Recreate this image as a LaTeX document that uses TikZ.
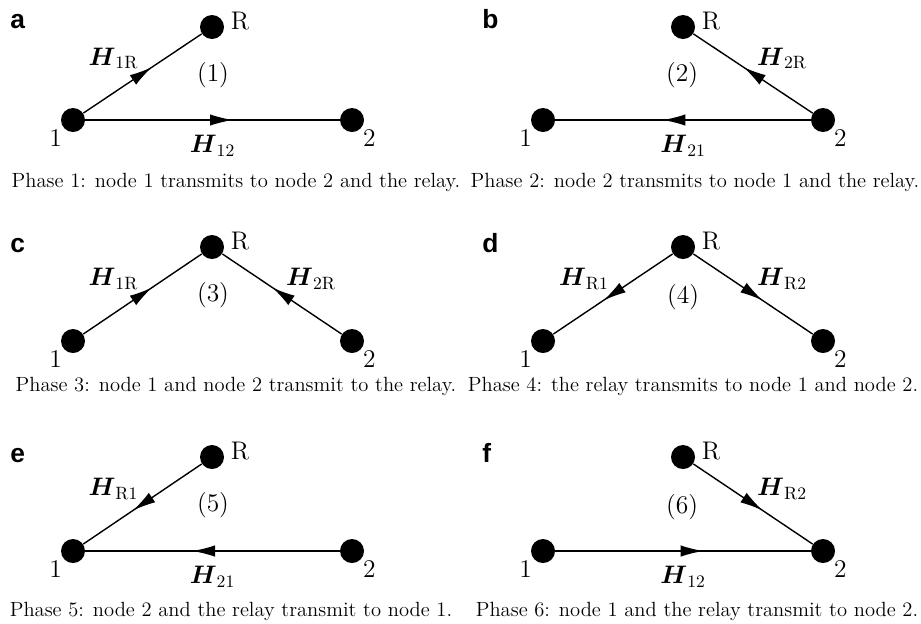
\documentclass[tikz,border=0pt]{standalone}
\usepackage{amsmath,amssymb}
\usepackage{fontspec}
\newfontfamily\panelfont{Liberation Sans}
\usepackage{tikz}
\usetikzlibrary{arrows.meta,decorations.markings}
\tikzset{
  dot/.style  ={circle, fill=black, inner sep=0pt, minimum size=0.48cm},
  nlbl/.style ={font=\fontsize{14.5}{16}\selectfont, inner sep=0pt, label distance=1pt},
  rlbl/.style ={nlbl, label distance=3.5pt, yshift=3.5pt},
  hlbl/.style ={font=\fontsize{14.5}{16}\selectfont, inner sep=2pt},
  phase/.style={font=\fontsize{14.5}{16}\selectfont},
  capt/.style ={font=\fontsize{11.7}{14}\selectfont},
  tag/.style  ={font=\fontsize{15}{15}\panelfont\bfseries, anchor=base west, inner sep=0pt},
  link/.style ={line width=0.8pt, postaction={decorate},
                decoration={markings, mark=at position 0.58 with
                {\arrow{Latex[length=13pt,width=6.5pt]}}}}
}

\begin{document}
\begin{tikzpicture}
\useasboundingbox (0,0) rectangle (18.42,-12.46);

\node[tag] (ta) at (0.2,-0.56) {a};
\node[dot, label={[nlbl]-140:1}] (a1) at (1.46,-2.40) {};
\node[dot, label={[rlbl]0:R}]    (aR) at (4.24,-0.54) {};
\node[dot, label={[nlbl]-40:2}]  (a2) at (7.04,-2.40) {};
\node[phase] (pa) at (4.26,-1.50) {(1)};
\draw[link] (a1) -- node[hlbl, above left]{$\boldsymbol{H}_{1\mathrm{R}}$} (aR);
\draw[link] (a1) -- node[hlbl, below=0.22cm]{$\boldsymbol{H}_{12}$} (a2);
\node[capt] (ca) at (4.72,-3.64) {Phase 1: node 1 transmits to node 2 and the relay.};

\node[tag] (tb) at (9.64,-0.56) {b};
\node[dot, label={[nlbl]-140:1}] (b1) at (10.86,-2.40) {};
\node[dot, label={[rlbl]0:R}]    (bR) at (13.66,-0.54) {};
\node[dot, label={[nlbl]-40:2}]  (b2) at (16.46,-2.40) {};
\node[phase] (pb) at (13.64,-1.50) {(2)};
\draw[link] (b2) -- node[hlbl, above right]{$\boldsymbol{H}_{2\mathrm{R}}$} (bR);
\draw[link] (b2) -- node[hlbl, below=0.22cm]{$\boldsymbol{H}_{21}$} (b1);
\node[capt] (cb) at (13.90,-3.64) {Phase 2: node 2 transmits to node 1 and the relay.};

\node[tag] (tc) at (0.2,-5.04) {c};
\node[dot, label={[nlbl]-140:1}] (c1) at (1.46,-6.82) {};
\node[dot, label={[rlbl]0:R}]    (cR) at (4.24,-4.94) {};
\node[dot, label={[nlbl]-40:2}]  (c2) at (7.04,-6.82) {};
\node[phase] (pc) at (4.26,-5.90) {(3)};
\draw[link] (c1) -- node[hlbl, above left]{$\boldsymbol{H}_{1\mathrm{R}}$} (cR);
\draw[link] (c2) -- node[hlbl, above right]{$\boldsymbol{H}_{2\mathrm{R}}$} (cR);
\node[capt] (cc) at (4.72,-7.72) {Phase 3: node 1 and node 2 transmit to the relay.};

\node[tag] (td) at (9.64,-5.04) {d};
\node[dot, label={[nlbl]-140:1}] (d1) at (10.86,-6.82) {};
\node[dot, label={[rlbl]0:R}]    (dR) at (13.66,-4.94) {};
\node[dot, label={[nlbl]-40:2}]  (d2) at (16.46,-6.82) {};
\node[phase] (pd) at (13.66,-5.94) {(4)};
\draw[link] (dR) -- node[hlbl, above left]{$\boldsymbol{H}_{\mathrm{R}1}$} (d1);
\draw[link] (dR) -- node[hlbl, above right]{$\boldsymbol{H}_{\mathrm{R}2}$} (d2);
\node[capt] (cd) at (13.86,-7.72) {Phase 4: the relay transmits to node 1 and node 2.};

\node[tag] (te) at (0.2,-9.24) {e};
\node[dot, label={[nlbl]-140:1}] (e1) at (1.46,-11.02) {};
\node[dot, label={[rlbl]0:R}]    (eR) at (4.24,-9.14) {};
\node[dot, label={[nlbl]-40:2}]  (e2) at (7.04,-11.02) {};
\node[phase] (pe) at (4.26,-10.10) {(5)};
\draw[link] (eR) -- node[hlbl, above left]{$\boldsymbol{H}_{\mathrm{R}1}$} (e1);
\draw[link] (e2) -- node[hlbl, below=0.22cm]{$\boldsymbol{H}_{21}$} (e1);
\node[capt] (ce) at (4.62,-12.22) {Phase 5: node 2 and the relay transmit to node 1.};

\node[tag] (tf) at (9.64,-9.24) {f};
\node[dot, label={[nlbl]-140:1}] (f1) at (10.86,-11.02) {};
\node[dot, label={[rlbl]0:R}]    (fR) at (13.66,-9.14) {};
\node[dot, label={[nlbl]-40:2}]  (f2) at (16.46,-11.02) {};
\node[phase] (pf) at (13.64,-10.14) {(6)};
\draw[link] (f1) -- node[hlbl, below=0.22cm]{$\boldsymbol{H}_{12}$} (f2);
\draw[link] (fR) -- node[hlbl, above right]{$\boldsymbol{H}_{\mathrm{R}2}$} (f2);
\node[capt] (cf) at (13.94,-12.22) {Phase 6: node 1 and the relay transmit to node 2.};
\end{tikzpicture}
\end{document}
